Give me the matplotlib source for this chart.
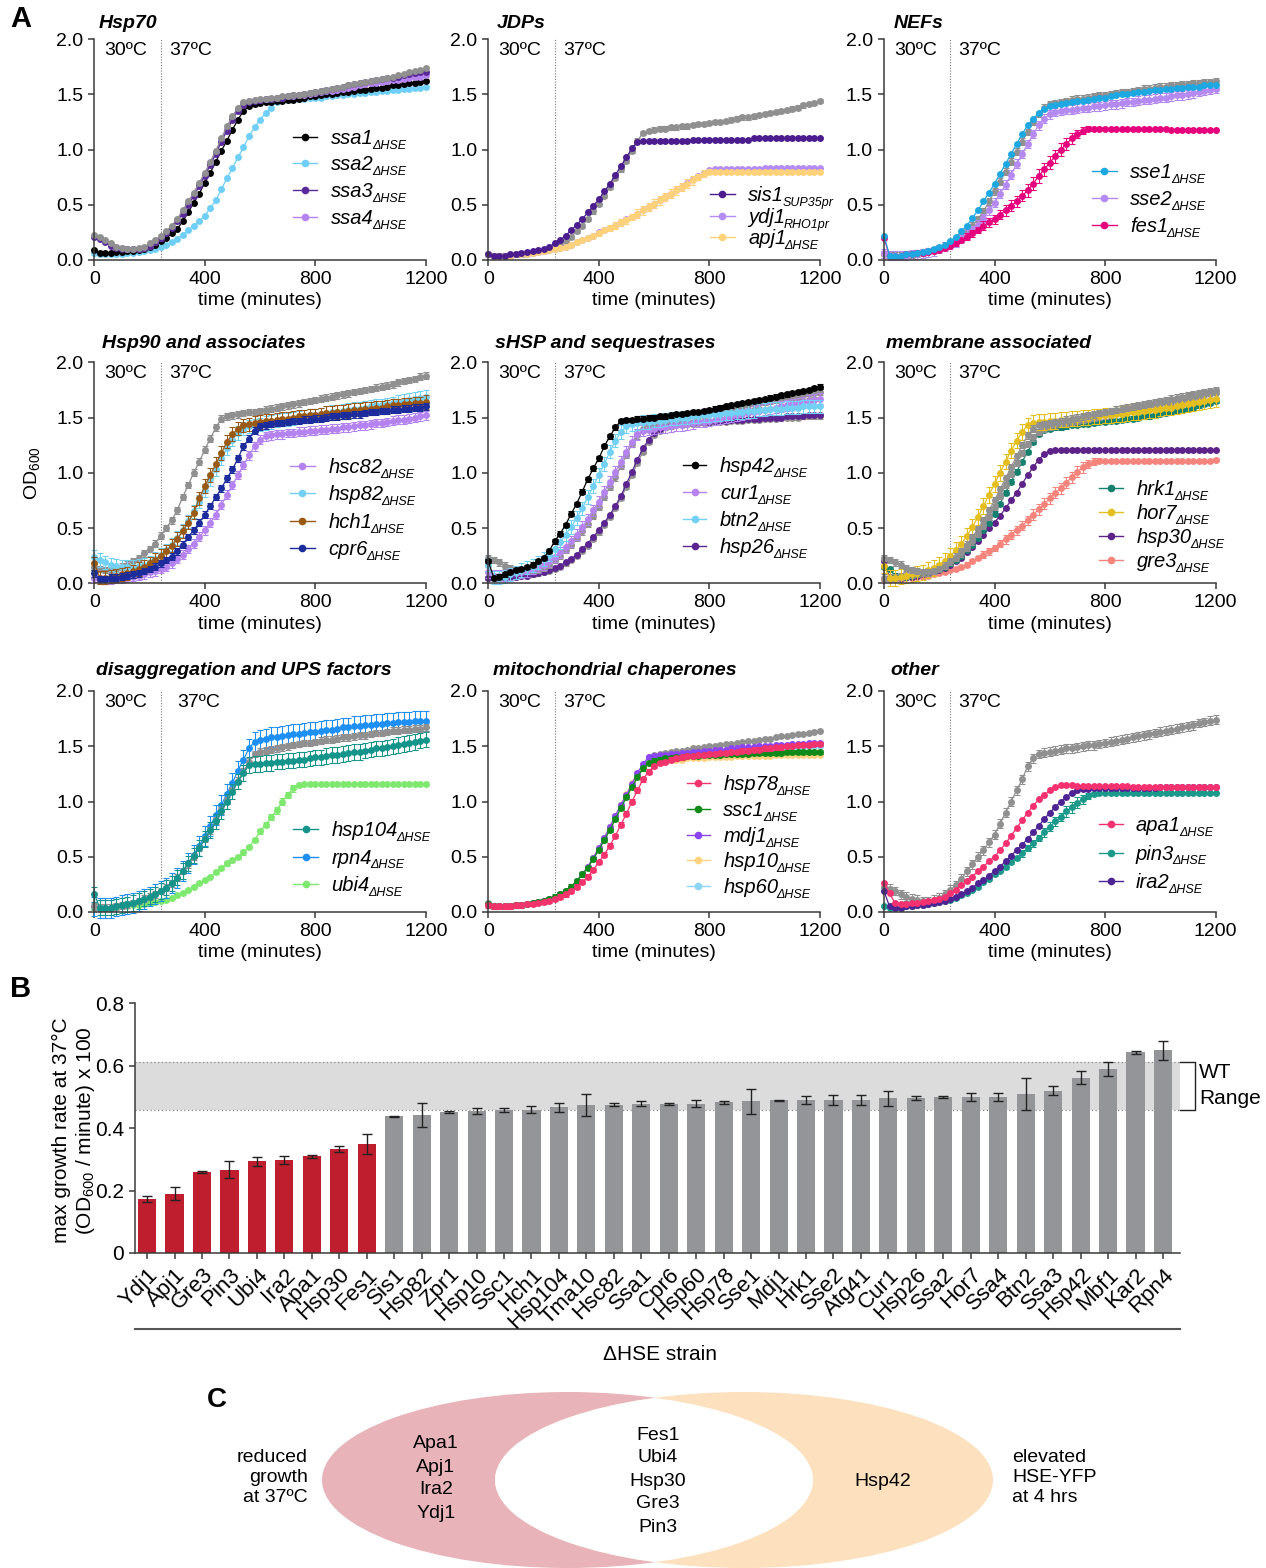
import numpy as np
import matplotlib
matplotlib.use('Agg')
import matplotlib.pyplot as plt
from matplotlib.patches import Ellipse
from matplotlib.transforms import blended_transform_factory

plt.rcParams['font.family'] = 'Liberation Sans'
plt.rcParams['mathtext.fontset'] = 'custom'
plt.rcParams['mathtext.rm'] = 'Liberation Sans'
plt.rcParams['mathtext.it'] = 'Liberation Sans:italic'
plt.rcParams['mathtext.bf'] = 'Liberation Sans:bold'

# ---------------- data: panel A growth curves (OD600, every 20 min) -------------
time_min = np.arange(0, 1201, 20)

# Hsp70
wt_hsp70 = [0.23,0.21,0.18,0.15,0.12,0.11,0.10,0.10,0.11,0.12,
            0.15,0.18,0.22,0.26,0.31,0.37,0.45,0.53,0.61,0.70,
            0.79,0.89,0.99,1.10,1.21,1.30,1.38,1.43,1.44,1.45,
            1.46,1.46,1.47,1.47,1.48,1.48,1.49,1.49,1.50,1.51,
            1.52,1.53,1.54,1.55,1.56,1.57,1.58,1.59,1.60,1.61,
            1.62,1.63,1.64,1.65,1.66,1.67,1.68,1.70,1.71,1.72,
            1.74]
ssa1 = [0.09,0.06,0.06,0.06,0.07,0.07,0.08,0.08,0.09,0.10,
        0.12,0.14,0.17,0.20,0.24,0.28,0.35,0.43,0.52,0.60,
        0.70,0.79,0.89,0.99,1.08,1.18,1.27,1.35,1.39,1.41,
        1.42,1.43,1.43,1.44,1.44,1.45,1.45,1.46,1.47,1.48,
        1.48,1.49,1.50,1.50,1.51,1.52,1.52,1.53,1.54,1.54,
        1.55,1.56,1.56,1.57,1.58,1.58,1.59,1.60,1.60,1.61,
        1.62]
ssa2 = [0.06,0.05,0.05,0.05,0.05,0.05,0.06,0.06,0.07,0.08,
        0.09,0.10,0.12,0.14,0.16,0.19,0.23,0.27,0.31,0.35,
        0.40,0.47,0.54,0.64,0.74,0.83,0.93,1.02,1.12,1.20,
        1.27,1.33,1.38,1.43,1.45,1.45,1.46,1.46,1.46,1.47,
        1.47,1.47,1.48,1.48,1.49,1.49,1.50,1.50,1.51,1.51,
        1.52,1.52,1.53,1.53,1.54,1.54,1.55,1.55,1.56,1.56,
        1.57]
ssa3 = [0.21,0.19,0.16,0.13,0.11,0.10,0.10,0.10,0.10,0.11,
        0.13,0.16,0.20,0.24,0.29,0.35,0.42,0.50,0.58,0.67,
        0.76,0.86,0.96,1.07,1.17,1.27,1.35,1.40,1.43,1.44,
        1.45,1.46,1.46,1.47,1.47,1.48,1.49,1.49,1.50,1.51,
        1.52,1.53,1.54,1.55,1.56,1.57,1.58,1.59,1.60,1.61,
        1.62,1.63,1.64,1.65,1.65,1.66,1.67,1.68,1.69,1.70,
        1.70]
ssa4 = [0.22,0.20,0.17,0.14,0.12,0.11,0.10,0.10,0.10,0.11,
        0.13,0.16,0.20,0.25,0.30,0.36,0.43,0.51,0.60,0.69,
        0.78,0.88,0.98,1.09,1.19,1.29,1.37,1.42,1.44,1.45,
        1.45,1.46,1.46,1.47,1.47,1.48,1.48,1.49,1.49,1.50,
        1.51,1.52,1.53,1.53,1.54,1.55,1.56,1.57,1.58,1.59,
        1.60,1.60,1.61,1.62,1.63,1.63,1.64,1.65,1.66,1.66,
        1.67]

# JDPs
wt_jdp = [0.05,0.04,0.04,0.04,0.04,0.05,0.05,0.06,0.07,0.08,
          0.08,0.10,0.12,0.14,0.17,0.21,0.26,0.31,0.37,0.44,
          0.51,0.58,0.66,0.74,0.82,0.90,0.99,1.08,1.15,1.17,
          1.18,1.19,1.19,1.20,1.20,1.21,1.21,1.22,1.23,1.23,
          1.24,1.25,1.25,1.26,1.27,1.28,1.29,1.29,1.30,1.31,
          1.32,1.33,1.34,1.35,1.36,1.37,1.38,1.40,1.41,1.42,
          1.44]
sis1 = [0.05,0.04,0.04,0.04,0.05,0.05,0.06,0.07,0.08,0.09,
        0.10,0.12,0.15,0.18,0.22,0.27,0.32,0.37,0.43,0.49,
        0.55,0.62,0.69,0.77,0.85,0.93,1.01,1.07,1.08,1.08,
        1.08,1.08,1.08,1.08,1.08,1.08,1.08,1.09,1.09,1.09,
        1.09,1.09,1.09,1.09,1.09,1.09,1.09,1.09,1.10,1.10,
        1.10,1.10,1.10,1.10,1.10,1.10,1.10,1.10,1.10,1.10,
        1.10]
ydj1 = [0.05,0.04,0.04,0.04,0.04,0.05,0.05,0.05,0.06,0.07,
        0.08,0.09,0.10,0.11,0.12,0.14,0.16,0.18,0.20,0.22,
        0.25,0.27,0.29,0.31,0.34,0.37,0.39,0.42,0.45,0.48,
        0.51,0.54,0.57,0.60,0.63,0.66,0.70,0.73,0.76,0.79,
        0.81,0.82,0.82,0.82,0.82,0.82,0.82,0.82,0.82,0.82,
        0.83,0.83,0.83,0.83,0.83,0.83,0.83,0.83,0.83,0.83,
        0.83]
apj1 = [0.05,0.04,0.04,0.04,0.04,0.05,0.05,0.05,0.06,0.07,
        0.08,0.09,0.10,0.11,0.12,0.14,0.16,0.18,0.20,0.22,
        0.24,0.27,0.29,0.31,0.34,0.36,0.39,0.42,0.45,0.48,
        0.51,0.54,0.57,0.60,0.63,0.66,0.69,0.72,0.75,0.78,
        0.80,0.80,0.80,0.80,0.80,0.80,0.80,0.80,0.80,0.80,
        0.80,0.80,0.80,0.80,0.80,0.80,0.80,0.80,0.80,0.80,
        0.80]
apj1_sd = [0,0,0,0,0,0,0,0,0,0,
           0.01,0.01,0.01,0.01,0.01,0.01,0.01,0.01,0.01,0.01,
           0.02,0.02,0.03,0.03,0.03,0.03,0.03,0.04,0.04,0.04,
           0.04,0.04,0.04,0.04,0.04,0.04,0.04,0.04,0.03,0.03,
           0.02,0.01,0,0,0,0,0,0,0,0,
           0,0,0,0,0,0,0,0,0,0,
           0]

# NEFs
wt_nef = [0.05,0.04,0.04,0.04,0.05,0.05,0.06,0.07,0.08,0.09,
          0.11,0.13,0.15,0.18,0.22,0.26,0.31,0.37,0.44,0.53,
          0.62,0.71,0.80,0.89,0.98,1.07,1.16,1.25,1.32,1.38,
          1.41,1.42,1.43,1.44,1.45,1.46,1.46,1.47,1.48,1.49,
          1.49,1.50,1.51,1.52,1.52,1.53,1.54,1.55,1.55,1.56,
          1.57,1.57,1.58,1.58,1.59,1.59,1.60,1.60,1.61,1.61,
          1.62]
sse1 = [0.22,0.04,0.04,0.04,0.05,0.05,0.06,0.07,0.08,0.10,
        0.12,0.14,0.17,0.21,0.26,0.31,0.38,0.45,0.53,0.61,
        0.69,0.78,0.87,0.96,1.05,1.14,1.22,1.28,1.33,1.37,
        1.39,1.40,1.41,1.42,1.43,1.44,1.44,1.45,1.46,1.47,
        1.47,1.48,1.49,1.50,1.50,1.51,1.52,1.52,1.53,1.54,
        1.54,1.55,1.55,1.56,1.56,1.57,1.57,1.57,1.58,1.58,
        1.58]
sse2 = [0.06,0.04,0.04,0.04,0.04,0.05,0.05,0.06,0.07,0.08,
        0.10,0.12,0.14,0.16,0.19,0.23,0.27,0.32,0.38,0.45,
        0.52,0.60,0.68,0.77,0.87,0.96,1.05,1.14,1.22,1.28,
        1.32,1.34,1.35,1.36,1.36,1.37,1.38,1.38,1.39,1.39,
        1.40,1.41,1.41,1.42,1.43,1.43,1.44,1.45,1.45,1.46,
        1.47,1.47,1.48,1.49,1.49,1.50,1.51,1.52,1.53,1.54,
        1.55]
fes1 = [0.20,0.04,0.04,0.04,0.05,0.05,0.06,0.06,0.07,0.08,
        0.09,0.11,0.13,0.15,0.18,0.21,0.24,0.27,0.31,0.34,
        0.37,0.41,0.45,0.49,0.53,0.58,0.63,0.69,0.76,0.82,
        0.88,0.94,1.00,1.05,1.10,1.14,1.17,1.19,1.19,1.19,
        1.19,1.19,1.19,1.19,1.19,1.19,1.19,1.19,1.19,1.19,
        1.19,1.19,1.18,1.18,1.18,1.18,1.18,1.18,1.18,1.18,
        1.18]
fes1_sd = [0,0,0,0,0,0,0,0,0,0,
           0.01,0.01,0.01,0.02,0.02,0.03,0.03,0.03,0.04,0.04,
           0.04,0.04,0.05,0.05,0.05,0.05,0.06,0.06,0.06,0.06,
           0.06,0.06,0.06,0.05,0.05,0.04,0.03,0.02,0.01,0.01,
           0,0,0,0,0,0,0,0,0,0,
           0,0,0,0,0,0,0,0,0,0,
           0]

# Hsp90 and associates
wt_hsp90 = [0.15,0.13,0.12,0.12,0.13,0.15,0.17,0.20,0.23,0.27,
            0.31,0.36,0.43,0.50,0.57,0.66,0.78,0.89,1.00,1.10,
            1.21,1.31,1.41,1.49,1.51,1.52,1.53,1.54,1.55,1.55,
            1.56,1.57,1.58,1.59,1.60,1.61,1.62,1.63,1.64,1.65,
            1.66,1.67,1.68,1.69,1.70,1.71,1.72,1.73,1.74,1.75,
            1.76,1.77,1.78,1.79,1.80,1.82,1.83,1.84,1.85,1.87,
            1.88]
hsc82 = [0.05,0.03,0.03,0.03,0.04,0.04,0.05,0.06,0.07,0.08,
         0.10,0.11,0.13,0.15,0.18,0.22,0.26,0.31,0.36,0.42,
         0.48,0.55,0.62,0.71,0.80,0.89,0.98,1.07,1.16,1.24,
         1.30,1.33,1.34,1.35,1.35,1.36,1.36,1.37,1.37,1.38,
         1.38,1.39,1.39,1.40,1.40,1.41,1.41,1.42,1.43,1.43,
         1.44,1.45,1.45,1.46,1.47,1.48,1.48,1.49,1.50,1.51,
         1.52]
hsp82 = [0.24,0.21,0.19,0.17,0.16,0.15,0.15,0.15,0.16,0.17,
         0.19,0.22,0.26,0.30,0.35,0.41,0.48,0.56,0.65,0.74,
         0.84,0.94,1.03,1.13,1.22,1.30,1.36,1.40,1.42,1.43,
         1.44,1.45,1.46,1.47,1.48,1.48,1.49,1.50,1.51,1.52,
         1.52,1.53,1.54,1.55,1.55,1.56,1.57,1.58,1.58,1.59,
         1.60,1.61,1.61,1.62,1.63,1.64,1.65,1.66,1.67,1.68,
         1.69]
hch1 = [0.18,0.05,0.05,0.06,0.07,0.08,0.09,0.11,0.13,0.15,
        0.18,0.21,0.25,0.29,0.34,0.40,0.47,0.55,0.64,0.77,
        0.88,0.98,1.08,1.18,1.28,1.35,1.40,1.43,1.44,1.45,
        1.46,1.47,1.47,1.48,1.49,1.49,1.50,1.51,1.51,1.52,
        1.52,1.53,1.54,1.54,1.55,1.55,1.56,1.57,1.57,1.58,
        1.58,1.59,1.59,1.60,1.61,1.61,1.62,1.62,1.63,1.63,
        1.64]
cpr6 = [0.09,0.04,0.04,0.05,0.05,0.06,0.07,0.08,0.09,0.11,
        0.13,0.15,0.18,0.21,0.24,0.29,0.35,0.42,0.48,0.55,
        0.62,0.70,0.78,0.86,0.95,1.03,1.13,1.24,1.31,1.38,
        1.42,1.43,1.44,1.45,1.45,1.46,1.47,1.47,1.48,1.48,
        1.49,1.49,1.50,1.51,1.51,1.52,1.52,1.53,1.53,1.54,
        1.55,1.55,1.56,1.56,1.57,1.57,1.58,1.58,1.59,1.59,
        1.60]

# sHSP and sequestrases
wt_shsp_a = [0.23,0.21,0.19,0.16,0.14,0.12,0.11,0.11,0.11,0.12,
             0.14,0.17,0.21,0.25,0.30,0.35,0.41,0.47,0.54,0.61,
             0.69,0.78,0.87,0.96,1.06,1.16,1.26,1.34,1.40,1.43,
             1.44,1.45,1.46,1.47,1.48,1.49,1.50,1.51,1.52,1.53,
             1.54,1.55,1.56,1.57,1.58,1.59,1.60,1.61,1.62,1.63,
             1.64,1.65,1.66,1.67,1.68,1.69,1.69,1.70,1.71,1.72,
             1.73]
wt_shsp_b = [0.05,0.05,0.05,0.05,0.06,0.06,0.07,0.07,0.08,0.09,
             0.10,0.11,0.13,0.15,0.18,0.21,0.25,0.29,0.34,0.40,
             0.46,0.53,0.60,0.68,0.77,0.87,0.98,1.09,1.19,1.28,
             1.34,1.38,1.41,1.42,1.43,1.43,1.44,1.44,1.45,1.45,
             1.45,1.46,1.46,1.46,1.47,1.47,1.47,1.48,1.48,1.48,
             1.49,1.49,1.49,1.50,1.50,1.50,1.50,1.51,1.51,1.51,
             1.51]
hsp42 = [0.20,0.05,0.06,0.08,0.10,0.12,0.13,0.15,0.17,0.20,
         0.23,0.29,0.38,0.45,0.53,0.63,0.72,0.83,0.94,1.04,
         1.13,1.24,1.33,1.41,1.47,1.48,1.48,1.49,1.49,1.50,
         1.50,1.51,1.51,1.52,1.53,1.53,1.54,1.55,1.55,1.56,
         1.57,1.58,1.59,1.60,1.61,1.62,1.63,1.64,1.65,1.66,
         1.67,1.68,1.69,1.70,1.71,1.72,1.73,1.74,1.75,1.77,
         1.78]
cur1 = [0.10,0.07,0.07,0.07,0.08,0.09,0.10,0.11,0.13,0.15,
        0.17,0.20,0.24,0.28,0.33,0.38,0.44,0.51,0.58,0.66,
        0.74,0.83,0.92,1.01,1.10,1.19,1.28,1.35,1.38,1.39,
        1.40,1.41,1.41,1.42,1.43,1.43,1.44,1.45,1.46,1.46,
        1.47,1.48,1.49,1.50,1.51,1.52,1.53,1.54,1.55,1.56,
        1.57,1.58,1.59,1.60,1.61,1.62,1.63,1.64,1.65,1.66,
        1.67]
btn2 = [0.17,0.05,0.05,0.06,0.08,0.10,0.12,0.14,0.16,0.19,
        0.22,0.26,0.31,0.37,0.44,0.51,0.59,0.68,0.78,0.88,
        0.98,1.08,1.19,1.29,1.37,1.42,1.44,1.45,1.46,1.46,
        1.47,1.47,1.48,1.49,1.49,1.50,1.50,1.51,1.51,1.52,
        1.52,1.53,1.53,1.54,1.54,1.55,1.55,1.56,1.56,1.57,
        1.57,1.58,1.58,1.58,1.59,1.59,1.59,1.60,1.60,1.60,
        1.60]
hsp26 = [0.05,0.05,0.05,0.05,0.06,0.06,0.07,0.07,0.08,0.09,
         0.10,0.12,0.14,0.16,0.19,0.22,0.26,0.31,0.36,0.42,
         0.48,0.55,0.62,0.70,0.79,0.90,1.01,1.12,1.22,1.30,
         1.36,1.40,1.42,1.43,1.44,1.44,1.45,1.45,1.46,1.46,
         1.46,1.47,1.47,1.47,1.48,1.48,1.48,1.49,1.49,1.49,
         1.50,1.50,1.50,1.50,1.51,1.51,1.51,1.51,1.52,1.52,
         1.52]

# membrane associated
wt_mem_a = [0.23,0.21,0.19,0.17,0.14,0.12,0.11,0.10,0.10,0.11,
            0.13,0.16,0.20,0.24,0.29,0.35,0.42,0.49,0.57,0.66,
            0.75,0.85,0.95,1.05,1.15,1.25,1.34,1.40,1.43,1.44,
            1.45,1.46,1.47,1.48,1.49,1.50,1.51,1.52,1.53,1.54,
            1.55,1.56,1.57,1.58,1.59,1.60,1.61,1.62,1.63,1.64,
            1.65,1.66,1.67,1.68,1.69,1.70,1.71,1.72,1.73,1.74,
            1.75]
wt_mem_b = [0.05,0.05,0.05,0.06,0.07,0.08,0.09,0.10,0.11,0.13,
            0.15,0.17,0.20,0.23,0.27,0.32,0.38,0.45,0.52,0.60,
            0.69,0.79,0.89,0.99,1.09,1.18,1.26,1.32,1.37,1.40,
            1.42,1.43,1.44,1.45,1.46,1.47,1.48,1.49,1.50,1.51,
            1.52,1.53,1.54,1.55,1.56,1.57,1.58,1.59,1.60,1.61,
            1.62,1.63,1.64,1.65,1.66,1.67,1.68,1.69,1.70,1.71,
            1.72]
hrk1 = [0.15,0.13,0.07,0.06,0.06,0.07,0.08,0.09,0.10,0.11,
        0.13,0.15,0.18,0.21,0.25,0.30,0.35,0.41,0.48,0.55,
        0.63,0.72,0.82,0.92,1.01,1.10,1.19,1.28,1.35,1.39,
        1.40,1.41,1.41,1.42,1.43,1.43,1.44,1.44,1.45,1.46,
        1.46,1.47,1.47,1.48,1.49,1.49,1.50,1.51,1.51,1.52,
        1.53,1.54,1.55,1.56,1.57,1.58,1.59,1.61,1.62,1.63,
        1.65]
hor7 = [0.16,0.05,0.05,0.06,0.07,0.08,0.09,0.10,0.12,0.14,
        0.17,0.20,0.25,0.30,0.36,0.43,0.51,0.60,0.70,0.80,
        0.90,1.00,1.10,1.20,1.29,1.37,1.43,1.45,1.46,1.46,
        1.47,1.47,1.48,1.48,1.49,1.49,1.50,1.50,1.51,1.51,
        1.52,1.52,1.53,1.53,1.54,1.55,1.55,1.56,1.57,1.57,
        1.58,1.59,1.59,1.60,1.61,1.62,1.63,1.64,1.65,1.66,
        1.67]
hsp30 = [0.20,0.06,0.05,0.05,0.06,0.06,0.07,0.08,0.09,0.11,
         0.12,0.14,0.17,0.20,0.23,0.28,0.33,0.38,0.44,0.50,
         0.55,0.61,0.68,0.75,0.82,0.90,0.98,1.05,1.12,1.17,
         1.20,1.21,1.21,1.21,1.21,1.21,1.21,1.21,1.21,1.21,
         1.21,1.21,1.21,1.21,1.21,1.21,1.21,1.21,1.21,1.21,
         1.21,1.21,1.21,1.21,1.21,1.21,1.21,1.21,1.21,1.21,
         1.21]
gre3 = [0.04,0.04,0.04,0.04,0.05,0.05,0.06,0.06,0.07,0.08,
        0.09,0.10,0.12,0.13,0.15,0.17,0.20,0.23,0.26,0.29,
        0.32,0.36,0.40,0.44,0.48,0.52,0.57,0.62,0.67,0.72,
        0.77,0.82,0.86,0.91,0.96,1.01,1.05,1.08,1.10,1.11,
        1.11,1.11,1.11,1.11,1.11,1.11,1.11,1.11,1.11,1.11,
        1.11,1.11,1.11,1.11,1.11,1.11,1.11,1.11,1.11,1.11,
        1.12]
gre3_sd = [0,0,0,0,0,0,0,0,0,0,
           0.01,0.01,0.01,0.01,0.02,0.02,0.02,0.02,0.03,0.03,
           0.03,0.03,0.04,0.04,0.04,0.04,0.04,0.05,0.05,0.05,
           0.05,0.05,0.05,0.05,0.05,0.05,0.05,0.04,0.03,0.02,
           0.01,0.01,0.01,0.01,0.01,0.01,0.01,0.01,0.01,0.01,
           0.01,0.01,0.01,0.01,0.01,0.01,0.01,0.01,0.01,0.01,
           0.01]

# disaggregation and UPS factors
wt_dis = [0.05,0.04,0.04,0.04,0.05,0.06,0.07,0.08,0.10,0.12,
          0.14,0.16,0.19,0.22,0.26,0.31,0.37,0.43,0.50,0.58,
          0.66,0.74,0.83,0.92,1.01,1.10,1.19,1.27,1.36,1.43,
          1.45,1.46,1.47,1.48,1.49,1.50,1.51,1.52,1.53,1.53,
          1.54,1.55,1.56,1.56,1.57,1.58,1.58,1.59,1.60,1.60,
          1.61,1.62,1.62,1.63,1.64,1.64,1.65,1.65,1.66,1.66,
          1.67]
hsp104 = [0.16,0.04,0.04,0.04,0.05,0.06,0.07,0.08,0.10,0.12,
          0.14,0.16,0.19,0.22,0.26,0.31,0.37,0.44,0.51,0.58,
          0.66,0.74,0.82,0.91,1.00,1.09,1.18,1.26,1.33,1.34,
          1.34,1.35,1.35,1.36,1.36,1.37,1.37,1.38,1.38,1.39,
          1.40,1.40,1.41,1.42,1.42,1.43,1.44,1.45,1.45,1.46,
          1.47,1.48,1.48,1.49,1.50,1.51,1.52,1.53,1.54,1.55,
          1.56]
rpn4 = [0.05,0.04,0.04,0.04,0.05,0.06,0.07,0.08,0.10,0.12,
        0.14,0.16,0.19,0.22,0.26,0.31,0.37,0.44,0.52,0.60,
        0.69,0.78,0.88,0.97,1.07,1.17,1.28,1.38,1.48,1.54,
        1.56,1.57,1.58,1.58,1.59,1.60,1.61,1.61,1.62,1.63,
        1.63,1.64,1.65,1.65,1.66,1.67,1.67,1.68,1.68,1.69,
        1.69,1.70,1.70,1.71,1.71,1.72,1.72,1.72,1.73,1.73,
        1.73]
ubi4 = [0.04,0.04,0.04,0.04,0.04,0.05,0.05,0.06,0.06,0.07,
        0.08,0.09,0.10,0.11,0.13,0.15,0.17,0.20,0.23,0.26,
        0.29,0.32,0.36,0.40,0.44,0.47,0.50,0.54,0.59,0.65,
        0.73,0.79,0.86,0.92,1.00,1.06,1.12,1.15,1.16,1.16,
        1.16,1.16,1.16,1.16,1.16,1.16,1.16,1.16,1.16,1.16,
        1.16,1.16,1.16,1.16,1.16,1.16,1.16,1.16,1.16,1.16,
        1.16]
ubi4_sd = [0,0,0,0,0,0,0,0,0,0,
           0.01,0.01,0.01,0.01,0.01,0.01,0.01,0.01,0.01,0.01,
           0.01,0.01,0.02,0.02,0.02,0.02,0.02,0.02,0.02,0.02,
           0.02,0.02,0.03,0.03,0.03,0.03,0.03,0.02,0.01,0.01,
           0,0,0,0,0,0,0,0,0,0,
           0,0,0,0,0,0,0,0,0,0,
           0]

# mitochondrial chaperones
wt_mito = [0.08,0.05,0.05,0.05,0.05,0.06,0.06,0.07,0.08,0.09,
           0.10,0.12,0.14,0.16,0.19,0.23,0.28,0.34,0.41,0.49,
           0.58,0.67,0.77,0.87,0.97,1.06,1.15,1.25,1.33,1.40,
           1.42,1.43,1.44,1.45,1.46,1.46,1.47,1.48,1.48,1.49,
           1.50,1.50,1.51,1.52,1.52,1.53,1.54,1.55,1.55,1.56,
           1.57,1.57,1.58,1.59,1.59,1.60,1.61,1.61,1.62,1.63,
           1.64]
hsp78 = [0.06,0.05,0.05,0.05,0.05,0.06,0.06,0.07,0.07,0.08,
         0.09,0.10,0.12,0.14,0.16,0.19,0.23,0.27,0.32,0.38,
         0.45,0.52,0.60,0.69,0.79,0.89,1.00,1.10,1.20,1.27,
         1.32,1.35,1.36,1.38,1.39,1.40,1.41,1.41,1.42,1.42,
         1.43,1.43,1.44,1.44,1.45,1.45,1.46,1.46,1.47,1.47,
         1.48,1.48,1.49,1.49,1.50,1.50,1.51,1.51,1.51,1.52,
         1.52]
ssc1 = [0.07,0.05,0.05,0.05,0.05,0.06,0.06,0.07,0.08,0.09,
        0.10,0.12,0.14,0.16,0.19,0.23,0.28,0.34,0.40,0.48,
        0.56,0.65,0.74,0.84,0.94,1.04,1.13,1.22,1.30,1.35,
        1.37,1.38,1.39,1.39,1.40,1.40,1.41,1.41,1.41,1.42,
        1.42,1.42,1.42,1.43,1.43,1.43,1.43,1.43,1.44,1.44,
        1.44,1.44,1.44,1.44,1.45,1.45,1.45,1.45,1.45,1.45,
        1.45]
mdj1 = [0.06,0.05,0.05,0.05,0.05,0.06,0.06,0.07,0.08,0.09,
        0.10,0.12,0.14,0.16,0.19,0.23,0.28,0.34,0.41,0.49,
        0.58,0.67,0.77,0.87,0.97,1.06,1.16,1.26,1.34,1.40,
        1.41,1.42,1.42,1.43,1.43,1.44,1.44,1.45,1.45,1.46,
        1.46,1.47,1.47,1.47,1.48,1.48,1.49,1.49,1.49,1.50,
        1.50,1.50,1.51,1.51,1.51,1.52,1.52,1.52,1.53,1.53,
        1.53]
hsp10 = [0.06,0.05,0.05,0.05,0.05,0.06,0.06,0.07,0.08,0.09,
         0.10,0.12,0.14,0.16,0.19,0.23,0.28,0.34,0.41,0.49,
         0.58,0.67,0.77,0.87,0.97,1.07,1.17,1.26,1.32,1.35,
         1.36,1.37,1.37,1.38,1.38,1.38,1.39,1.39,1.39,1.39,
         1.40,1.40,1.40,1.40,1.40,1.41,1.41,1.41,1.41,1.41,
         1.41,1.41,1.42,1.42,1.42,1.42,1.42,1.42,1.42,1.42,
         1.42]
hsp60 = [0.06,0.05,0.05,0.05,0.05,0.06,0.06,0.07,0.08,0.09,
         0.10,0.12,0.14,0.16,0.19,0.23,0.28,0.34,0.41,0.49,
         0.58,0.67,0.77,0.87,0.97,1.06,1.16,1.25,1.33,1.38,
         1.39,1.40,1.40,1.41,1.41,1.42,1.42,1.43,1.43,1.43,
         1.44,1.44,1.44,1.45,1.45,1.45,1.46,1.46,1.46,1.47,
         1.47,1.47,1.48,1.48,1.48,1.49,1.49,1.49,1.50,1.50,
         1.50]

# other
wt_other = [0.23,0.21,0.19,0.16,0.14,0.12,0.11,0.10,0.10,0.11,
            0.13,0.16,0.20,0.24,0.30,0.37,0.43,0.50,0.56,0.63,
            0.70,0.80,0.90,1.00,1.10,1.20,1.32,1.39,1.43,1.44,
            1.45,1.46,1.47,1.48,1.48,1.49,1.50,1.51,1.51,1.52,
            1.53,1.54,1.55,1.56,1.57,1.58,1.59,1.60,1.61,1.62,
            1.63,1.64,1.65,1.66,1.67,1.68,1.69,1.71,1.72,1.73,
            1.74]
apa1 = [0.26,0.17,0.08,0.07,0.07,0.08,0.08,0.09,0.10,0.11,
        0.12,0.14,0.17,0.20,0.24,0.28,0.32,0.37,0.41,0.46,
        0.50,0.56,0.62,0.69,0.76,0.83,0.90,0.96,1.02,1.06,
        1.10,1.13,1.15,1.15,1.15,1.14,1.14,1.14,1.14,1.14,
        1.14,1.14,1.14,1.14,1.14,1.13,1.13,1.13,1.13,1.13,
        1.13,1.13,1.13,1.13,1.13,1.13,1.13,1.13,1.13,1.13,
        1.13]
pin3 = [0.05,0.04,0.04,0.04,0.05,0.05,0.06,0.06,0.07,0.08,
        0.09,0.10,0.11,0.13,0.15,0.17,0.20,0.23,0.27,0.30,
        0.34,0.37,0.41,0.45,0.49,0.53,0.58,0.62,0.67,0.72,
        0.77,0.82,0.86,0.91,0.95,0.99,1.02,1.05,1.07,1.08,
        1.08,1.08,1.08,1.08,1.08,1.08,1.08,1.08,1.08,1.08,
        1.08,1.08,1.08,1.08,1.08,1.08,1.08,1.08,1.08,1.08,
        1.08]
pin3_sd = [0,0,0,0,0,0,0,0,0,0,
           0.01,0.01,0.01,0.01,0.01,0.01,0.01,0.01,0.01,0.01,
           0.01,0.01,0.02,0.02,0.02,0.03,0.03,0.03,0.03,0.04,
           0.04,0.04,0.04,0.05,0.05,0.05,0.04,0.03,0.02,0.01,
           0.01,0.01,0.01,0.01,0.01,0.01,0.01,0.01,0.01,0.01,
           0.01,0.01,0.01,0.01,0.01,0.01,0.01,0.01,0.01,0.01,
           0.01]
ira2 = [0.19,0.05,0.04,0.04,0.05,0.05,0.06,0.06,0.07,0.08,
        0.09,0.10,0.12,0.14,0.16,0.19,0.22,0.26,0.29,0.33,
        0.37,0.41,0.46,0.51,0.56,0.61,0.66,0.72,0.78,0.84,
        0.90,0.95,1.00,1.04,1.08,1.10,1.11,1.11,1.12,1.12,
        1.12,1.12,1.12,1.12,1.12,1.12,1.12,1.12,1.12,1.12,
        1.13,1.13,1.13,1.13,1.13,1.13,1.13,1.13,1.13,1.13,
        1.13]

# ---------------- data: panel B ----------------
strains = ['Ydj1', 'Apj1', 'Gre3', 'Pin3', 'Ubi4', 'Ira2', 'Apa1', 'Hsp30', 'Fes1',
           'Sis1', 'Hsp82', 'Zpr1', 'Hsp10', 'Ssc1', 'Hch1', 'Hsp104', 'Tma10', 'Hsc82',
           'Ssa1', 'Cpr6', 'Hsp60', 'Hsp78', 'Sse1', 'Mdj1', 'Hrk1', 'Sse2', 'Atg41',
           'Cur1', 'Hsp26', 'Ssa2', 'Hor7', 'Ssa4', 'Btn2', 'Ssa3', 'Hsp42', 'Mbf1',
           'Kar2', 'Rpn4']
rate = [0.174, 0.190, 0.259, 0.267, 0.293, 0.297, 0.309, 0.334, 0.348,
        0.437, 0.442, 0.451, 0.454, 0.457, 0.459, 0.466, 0.475, 0.475,
        0.478, 0.478, 0.478, 0.482, 0.485, 0.489, 0.490, 0.490, 0.490,
        0.495, 0.496, 0.499, 0.500, 0.500, 0.509, 0.520, 0.561, 0.590,
        0.642, 0.649]
rate_sd = [0.010, 0.020, 0.004, 0.028, 0.014, 0.012, 0.004, 0.010, 0.032,
           0.002, 0.038, 0.003, 0.010, 0.007, 0.010, 0.015, 0.035, 0.005,
           0.008, 0.003, 0.012, 0.005, 0.040, 0.002, 0.014, 0.015, 0.015,
           0.025, 0.005, 0.004, 0.012, 0.013, 0.052, 0.014, 0.020, 0.022,
           0.004, 0.030]
n_reduced = 9
wt_range = (0.459, 0.61)

# ---------------- data: panel C ----------------
only_growth = ['Apa1', 'Apj1', 'Ira2', 'Ydj1']
both_sets = ['Fes1', 'Ubi4', 'Hsp30', 'Gre3', 'Pin3']
only_hse = ['Hsp42']

# ---------------- colours ----------------
GRAY = '#909090'
AX = '#3A3A3A'
HSE = 'ΔHSE'

panels = [
    dict(title='Hsp70', tx=0.014,
         curves=[(ssa2, '#6FCFF6', 0), (ssa1, '#000000', 0), (ssa4, '#B584F2', 0),
                 (ssa3, '#5A2A9C', 0), (wt_hsp70, GRAY, 0)],
         legend=[('ssa1', HSE, '#000000'), ('ssa2', HSE, '#6FCFF6'),
                 ('ssa3', HSE, '#5A2A9C'), ('ssa4', HSE, '#B584F2')],
         leg=(0.600, 0.672, 0.714, 0.558, 0.121), t37=270),
    dict(title='JDPs', tx=0.025,
         curves=[(wt_jdp, GRAY, 0.02), (ydj1, '#B48CF5', 0), (apj1, '#FFD27A', apj1_sd),
                 (sis1, '#4B1D8F', 0)],
         legend=[('sis1', 'SUP35pr', '#4B1D8F'), ('ydj1', 'RHO1pr', '#B48CF5'),
                 ('apj1', HSE, '#FFD27A')],
         leg=(0.668, 0.744, 0.784, 0.297, 0.097), t37=270),
    dict(title='NEFs', tx=0.030,
         curves=[(wt_nef, GRAY, 0.03), (sse2, '#B58AF0', 0.04), (fes1, '#E5007D', fes1_sd),
                 (sse1, '#1EA8E2', 0)],
         legend=[('sse1', HSE, '#1EA8E2'), ('sse2', HSE, '#B58AF0'), ('fes1', HSE, '#E5007D')],
         leg=(0.626, 0.702, 0.742, 0.403, 0.122), t37=270),
    dict(title='Hsp90 and associates', tx=0.022,
         curves=[(wt_hsp90, GRAY, 0.03), (hsc82, '#B583F0', 0.04), (hsp82, '#72D0F5', 0.06),
                 (hch1, '#9A5A14', 0.06), (cpr6, '#1C2C9C', 0.03)],
         legend=[('hsc82', HSE, '#B583F0'), ('hsp82', HSE, '#72D0F5'),
                 ('hch1', HSE, '#9A5A14'), ('cpr6', HSE, '#1C2C9C')],
         leg=(0.590, 0.666, 0.706, 0.531, 0.124), t37=270, ylabel=True),
    dict(title='sHSP and sequestrases', tx=0.020,
         curves=[(wt_shsp_b, GRAY, 0.02), (hsp26, '#5B2490', 0), (wt_shsp_a, GRAY, 0.03),
                 (cur1, '#B583F0', 0.05), (btn2, '#72D0F5', 0.06), (hsp42, '#000000', 0.02)],
         legend=[('hsp42', HSE, '#000000'), ('cur1', HSE, '#B583F0'),
                 ('btn2', HSE, '#72D0F5'), ('hsp26', HSE, '#5B2490')],
         leg=(0.588, 0.658, 0.699, 0.535, 0.122), t37=270),
    dict(title='membrane associated', tx=0.006,
         curves=[(gre3, '#F5857C', gre3_sd), (hsp30, '#5E2389', 0), (hrk1, '#16806F', 0.02),
                 (wt_mem_b, GRAY, 0.03), (hor7, '#E5BF1F', 0.07), (wt_mem_a, GRAY, 0.03)],
         legend=[('hrk1', HSE, '#16806F'), ('hor7', HSE, '#E5BF1F'),
                 ('hsp30', HSE, '#5E2389'), ('gre3', HSE, '#F5857C')],
         leg=(0.649, 0.720, 0.762, 0.430, 0.108), t37=270),
    dict(title='disaggregation and UPS factors', tx=0.005,
         curves=[(ubi4, '#7EE86F', ubi4_sd), (rpn4, '#1E90F5', 0.09), (wt_dis, GRAY, 0.03),
                 (hsp104, '#14948A', 0.07)],
         legend=[('hsp104', HSE, '#14948A'), ('rpn4', HSE, '#1E90F5'), ('ubi4', HSE, '#7EE86F')],
         leg=(0.600, 0.676, 0.716, 0.376, 0.125), t37=300),
    dict(title='mitochondrial chaperones', tx=0.015,
         curves=[(wt_mito, GRAY, 0), (hsp60, '#8DD5F5', 0), (hsp10, '#FFD27F', 0),
                 (mdj1, '#8B45F5', 0), (ssc1, '#0E8A18', 0.02), (hsp78, '#F2336C', 0.02)],
         legend=[('hsp78', HSE, '#F2336C'), ('ssc1', HSE, '#0E8A18'), ('mdj1', HSE, '#8B45F5'),
                 ('hsp10', HSE, '#FFD27F'), ('hsp60', HSE, '#8DD5F5')],
         leg=(0.598, 0.668, 0.709, 0.582, 0.116), t37=270),
    dict(title='other', tx=0.018,
         curves=[(wt_other, GRAY, 0.04), (pin3, '#1B9A8C', pin3_sd), (ira2, '#4E2394', 0),
                 (apa1, '#F5316F', 0)],
         legend=[('apa1', HSE, '#F5316F'), ('pin3', HSE, '#1B9A8C'), ('ira2', HSE, '#4E2394')],
         leg=(0.649, 0.720, 0.760, 0.397, 0.128), t37=270),
]

W, H = 1266, 1568
fig = plt.figure(figsize=(W / 100, H / 100), dpi=100)

# overlay axes in pixel coordinates (panel letters, panel C)
ov = fig.add_axes([0, 0, 1, 1])
ov.set_xlim(0, W)
ov.set_ylim(H, 0)
ov.axis('off')


def style_axes(ax, fs=14):
    for s in ['top', 'right']:
        ax.spines[s].set_visible(False)
    for s in ['left', 'bottom']:
        ax.spines[s].set_color(AX)
        ax.spines[s].set_linewidth(1.1)
    ax.tick_params(colors=AX, labelcolor='black', length=4.5, width=1.1, labelsize=fs)


def draw_curve(ax, y, color, sd):
    y = np.asarray(y, float)
    sd = np.broadcast_to(np.asarray(sd, float), y.shape)
    m = sd > 0
    if m.any():
        ax.errorbar(time_min[m], y[m], yerr=sd[m], fmt='none', ecolor=color,
                    elinewidth=0.8, capsize=2.2, capthick=0.8, clip_on=False)
    ax.plot(time_min, y, '-o', color=color, ms=5.0, mew=0, lw=0.9, clip_on=False)


col_left = [94.3, 488.3, 884.0]
row_top = [39.0, 362.3, 691.0]
ax_w, ax_h = 331.5, 221.0
title_dy = [15, 19, 20]

for i, p in enumerate(panels):
    r, c = divmod(i, 3)
    x0, y0 = col_left[c], row_top[r]
    ax = fig.add_axes([x0 / W, 1 - (y0 + ax_h) / H, ax_w / W, ax_h / H])
    ax.patch.set_alpha(0)
    style_axes(ax)
    ax.set_xlim(0, 1200)
    ax.set_ylim(0, 2.0)
    ax.set_xticks([0, 400, 800, 1200])
    ax.set_yticks([0, 0.5, 1.0, 1.5, 2.0])
    ax.set_yticklabels(['0.0', '0.5', '1.0', '1.5', '2.0'])
    ax.axvline(240, color='#777777', ls=(0, (1, 1.5)), lw=0.8, zorder=0)
    for y, color, sd in p['curves']:
        draw_curve(ax, y, color, sd)
    ax.text(36, 1.90, '30ºC', fontsize=14, va='center', ha='left')
    ax.text(p['t37'], 1.90, '37ºC', fontsize=14, va='center', ha='left')
    ax.text(p['tx'], 1 + title_dy[r] / ax_h, p['title'], transform=ax.transAxes,
            fontsize=14, fontweight='bold', fontstyle='italic', va='center', ha='left')
    ax.set_xlabel('time (minutes)', fontsize=14, labelpad=3)
    if p.get('ylabel'):
        ax.set_ylabel('OD$_{600}$', fontsize=14, labelpad=10)
    hx0, hx1, tx, ly0, dy = p['leg']
    for k, (name, sub, color) in enumerate(p['legend']):
        yy = ly0 - k * dy
        ax.plot([hx0, hx1], [yy, yy], color=color, lw=1, transform=ax.transAxes, clip_on=False)
        ax.plot([(hx0 + hx1) / 2], [yy], 'o', color=color, ms=5.5, mew=0,
                transform=ax.transAxes, clip_on=False)
        main = ax.text(tx, yy - 0.032, name, transform=ax.transAxes, fontsize=14.5,
                       fontstyle='italic', va='baseline', ha='left')
        ax.annotate(sub, xy=(1, 0), xycoords=main, xytext=(-1.3, -0.6),
                    textcoords='offset points', fontsize=9, fontstyle='italic',
                    va='baseline', ha='left')

# ---------------- panel B ----------------
bx0, bx1, by_top, by_bot = 135.0, 1180.0, 1003.0, 1253.0
axb = fig.add_axes([bx0 / W, 1 - by_bot / H, (bx1 - bx0) / W, (by_bot - by_top) / H])
axb.patch.set_alpha(0)
style_axes(axb, fs=15)
xpos = np.arange(len(strains))
bar_colors = ['#BE1E2D'] * n_reduced + ['#939598'] * (len(strains) - n_reduced)
axb.axhspan(wt_range[0], wt_range[1], color='#DCDCDC', zorder=0, lw=0)
for v in wt_range:
    axb.axhline(v, color='#8A8A8A', ls=(0, (1, 2)), lw=0.9, zorder=0.5)
axb.bar(xpos, rate, width=0.66, color=bar_colors, zorder=2,
        yerr=rate_sd, capsize=3.5,
        error_kw=dict(elinewidth=1.0, capthick=1.0, ecolor='#222222', zorder=3))
axb.set_xlim(-0.44, len(strains) - 1 + 0.62)
axb.set_ylim(0, 0.8)
axb.set_yticks([0, 0.2, 0.4, 0.6, 0.8])
axb.set_yticklabels(['0', '0.2', '0.4', '0.6', '0.8'])
axb.set_xticks(xpos)
axb.set_xticklabels(strains, rotation=45, ha='right', va='top', rotation_mode='anchor',
                    fontsize=16)
axb.set_ylabel('max growth rate at 37°C\n(OD$_{600}$ / minute) x 100', fontsize=15)
axb.yaxis.set_label_coords(-0.036, 0.49)

bt = blended_transform_factory(axb.transAxes, axb.transData)
bk = 1 + 15 / (bx1 - bx0)
axb.plot([1.0, bk, bk, 1.0], [wt_range[1], wt_range[1], wt_range[0], wt_range[0]],
         color='#222222', lw=1, transform=bt, clip_on=False)
axb.text(bk + 0.004, 0.579, 'WT', transform=bt, fontsize=15, va='center', ha='left')
axb.text(bk + 0.004, 0.496, 'Range', transform=bt, fontsize=15, va='center', ha='left')

ov.plot([bx0, bx1], [1329, 1329], color='#555555', lw=1.5)
ov.text(660, 1355, 'ΔHSE strain', fontsize=15, ha='center', va='center')

# ---------------- panel C ----------------
left_e = Ellipse((567.5, 1480), 491, 176, fc='#E8B4BA', ec='none')
right_e = Ellipse((744, 1480), 498, 176, fc='#FDE0BD', ec='none')
ov.add_patch(left_e)
ov.add_patch(right_e)
lens = Ellipse((567.5, 1480), 491, 176, fc='white', ec='none')
ov.add_patch(lens)
lens.set_clip_path(right_e)

for k, s in enumerate(only_growth):
    ov.text(436, 1444 + k * 23, s, fontsize=14, ha='center', va='center')
for k, s in enumerate(both_sets):
    ov.text(658, 1435 + k * 23, s, fontsize=14, ha='center', va='center')
for k, s in enumerate(only_hse):
    ov.text(883, 1481 + k * 23, s, fontsize=14, ha='center', va='center')
for k, s in enumerate(['reduced', 'growth', 'at 37ºC']):
    ov.text(308, 1457 + k * 20.5, s, fontsize=14, ha='right', va='center')
for k, s in enumerate(['elevated', 'HSE-YFP', 'at 4 hrs']):
    ov.text(1012, 1457 + k * 20.5, s, fontsize=14, ha='left', va='center')

# panel letters
ov.text(10, 19, 'A', fontsize=21, fontweight='bold', va='center', ha='left')
ov.text(10, 989, 'B', fontsize=21, fontweight='bold', va='center', ha='left')
ov.text(207, 1400, 'C', fontsize=20, fontweight='bold', va='center', ha='left')

fig.savefig('out.png', dpi=100)
